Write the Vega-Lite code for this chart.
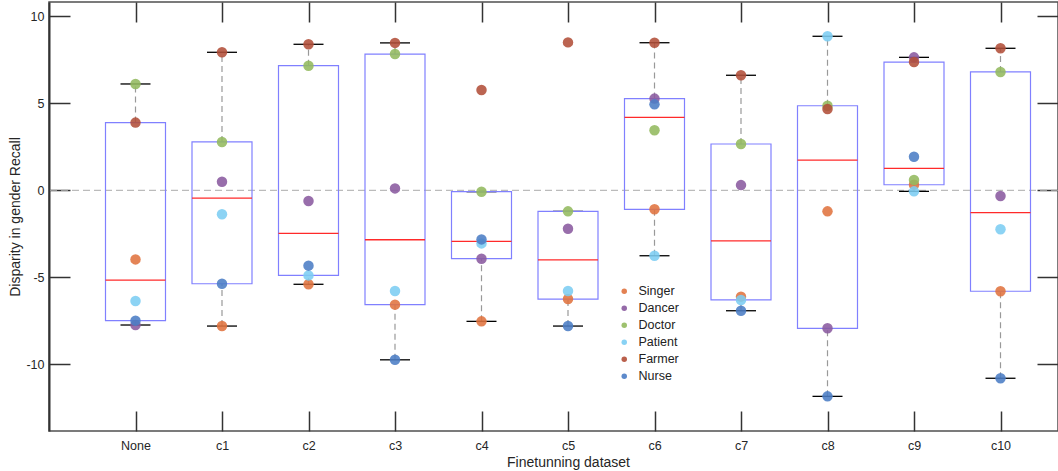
{
  "$schema": "https://vega.github.io/schema/vega-lite/v6.json",
  "width": 1009,
  "height": 429,
  "autosize": {"type": "none"},
  "padding": {"left": 49, "top": 2, "right": 0, "bottom": 40},
  "background": "white",
  "config": {
    "view": {"stroke": "#505050", "strokeWidth": 1.5},
    "font": "Liberation Sans",
    "axis": {
      "grid": false,
      "labelFont": "Liberation Sans",
      "labelFontSize": 12.5,
      "labelColor": "#262626",
      "titleFont": "Liberation Sans",
      "titleFontSize": 14,
      "titleFontWeight": "normal",
      "titleColor": "#262626",
      "domainColor": "#333333",
      "domainWidth": 2,
      "tickColor": "#333333",
      "tickWidth": 1.5
    }
  },
  "datasets": {
    "pts": [
      {"d": "None", "job": "Singer", "v": -3.97},
      {"d": "c1", "job": "Singer", "v": -7.80},
      {"d": "c2", "job": "Singer", "v": -5.40},
      {"d": "c3", "job": "Singer", "v": -6.57},
      {"d": "c4", "job": "Singer", "v": -7.53},
      {"d": "c5", "job": "Singer", "v": -6.25},
      {"d": "c6", "job": "Singer", "v": -1.09},
      {"d": "c7", "job": "Singer", "v": -6.11},
      {"d": "c8", "job": "Singer", "v": -1.21},
      {"d": "c9", "job": "Singer", "v": 0.32},
      {"d": "c10", "job": "Singer", "v": -5.80},
      {"d": "None", "job": "Dancer", "v": -7.74},
      {"d": "c1", "job": "Dancer", "v": 0.49},
      {"d": "c2", "job": "Dancer", "v": -0.61},
      {"d": "c3", "job": "Dancer", "v": 0.11},
      {"d": "c4", "job": "Dancer", "v": -3.93},
      {"d": "c5", "job": "Dancer", "v": -2.21},
      {"d": "c6", "job": "Dancer", "v": 5.27},
      {"d": "c7", "job": "Dancer", "v": 0.30},
      {"d": "c8", "job": "Dancer", "v": -7.93},
      {"d": "c9", "job": "Dancer", "v": 7.64},
      {"d": "c10", "job": "Dancer", "v": -0.33},
      {"d": "None", "job": "Doctor", "v": 6.11},
      {"d": "c1", "job": "Doctor", "v": 2.78},
      {"d": "c2", "job": "Doctor", "v": 7.16},
      {"d": "c3", "job": "Doctor", "v": 7.83},
      {"d": "c4", "job": "Doctor", "v": -0.08},
      {"d": "c5", "job": "Doctor", "v": -1.21},
      {"d": "c6", "job": "Doctor", "v": 3.45},
      {"d": "c7", "job": "Doctor", "v": 2.66},
      {"d": "c8", "job": "Doctor", "v": 4.86},
      {"d": "c9", "job": "Doctor", "v": 0.59},
      {"d": "c10", "job": "Doctor", "v": 6.80},
      {"d": "None", "job": "Patient", "v": -6.36},
      {"d": "c1", "job": "Patient", "v": -1.38},
      {"d": "c2", "job": "Patient", "v": -4.89},
      {"d": "c3", "job": "Patient", "v": -5.79},
      {"d": "c4", "job": "Patient", "v": -3.05},
      {"d": "c5", "job": "Patient", "v": -5.79},
      {"d": "c6", "job": "Patient", "v": -3.76},
      {"d": "c7", "job": "Patient", "v": -6.30},
      {"d": "c8", "job": "Patient", "v": 8.85},
      {"d": "c9", "job": "Patient", "v": -0.06},
      {"d": "c10", "job": "Patient", "v": -2.24},
      {"d": "None", "job": "Farmer", "v": 3.89},
      {"d": "c1", "job": "Farmer", "v": 7.93},
      {"d": "c2", "job": "Farmer", "v": 8.39},
      {"d": "c3", "job": "Farmer", "v": 8.47},
      {"d": "c4", "job": "Farmer", "v": 5.76},
      {"d": "c5", "job": "Farmer", "v": 8.50},
      {"d": "c6", "job": "Farmer", "v": 8.48},
      {"d": "c7", "job": "Farmer", "v": 6.61},
      {"d": "c8", "job": "Farmer", "v": 4.67},
      {"d": "c9", "job": "Farmer", "v": 7.37},
      {"d": "c10", "job": "Farmer", "v": 8.16},
      {"d": "None", "job": "Nurse", "v": -7.49},
      {"d": "c1", "job": "Nurse", "v": -5.37},
      {"d": "c2", "job": "Nurse", "v": -4.33},
      {"d": "c3", "job": "Nurse", "v": -9.74},
      {"d": "c4", "job": "Nurse", "v": -2.82},
      {"d": "c5", "job": "Nurse", "v": -7.80},
      {"d": "c6", "job": "Nurse", "v": 4.94},
      {"d": "c7", "job": "Nurse", "v": -6.92},
      {"d": "c8", "job": "Nurse", "v": -11.84},
      {"d": "c9", "job": "Nurse", "v": 1.93},
      {"d": "c10", "job": "Nurse", "v": -10.80}
    ],
    "box": [
      {"d": "None", "lo": -7.74, "q1": -7.49, "med": -5.165, "q3": 3.89, "hi": 6.11},
      {"d": "c1", "lo": -7.80, "q1": -5.37, "med": -0.445, "q3": 2.78, "hi": 7.93},
      {"d": "c2", "lo": -5.40, "q1": -4.89, "med": -2.47, "q3": 7.16, "hi": 8.39},
      {"d": "c3", "lo": -9.74, "q1": -6.57, "med": -2.84, "q3": 7.83, "hi": 8.47},
      {"d": "c4", "lo": -7.53, "q1": -3.93, "med": -2.935, "q3": -0.08, "hi": -0.08},
      {"d": "c5", "lo": -7.80, "q1": -6.25, "med": -4.0, "q3": -1.21, "hi": -1.21},
      {"d": "c6", "lo": -3.76, "q1": -1.09, "med": 4.195, "q3": 5.27, "hi": 8.48},
      {"d": "c7", "lo": -6.92, "q1": -6.30, "med": -2.905, "q3": 2.66, "hi": 6.61},
      {"d": "c8", "lo": -11.84, "q1": -7.93, "med": 1.73, "q3": 4.86, "hi": 8.85},
      {"d": "c9", "lo": -0.06, "q1": 0.32, "med": 1.26, "q3": 7.37, "hi": 7.64},
      {"d": "c10", "lo": -10.80, "q1": -5.80, "med": -1.285, "q3": 6.80, "hi": 8.16}
    ]
  },
  "resolve": {"axis": {"x": "independent", "y": "independent"}},
  "layer": [
    {
      "data": {"values": [{"z": 0}]},
      "mark": {"type": "rule", "color": "#aaaaaa", "strokeWidth": 1, "strokeDash": [7, 4]},
      "encoding": {
        "y": {
          "field": "z", "type": "quantitative",
          "scale": {"domain": [-13.83, 10.82], "nice": false, "zero": false},
          "axis": {"orient": "right", "values": [-10, -5, 0, 5, 10], "labels": false, "domain": false, "tickSize": -21, "title": null}
        }
      }
    },
    {
      "data": {"name": "box"},
      "mark": {"type": "rule", "color": "#999999", "strokeWidth": 1.2, "strokeDash": [6, 4]},
      "encoding": {
        "x": {"field": "d", "type": "nominal", "sort": null,
              "scale": {"type": "point", "domain": ["None","c1","c2","c3","c4","c5","c6","c7","c8","c9","c10"], "range": [86.5, 951.5], "padding": 0},
              "axis": null},
        "y": {"field": "lo", "type": "quantitative", "axis": null},
        "y2": {"field": "q1"}
      }
    },
    {
      "data": {"name": "box"},
      "mark": {"type": "rule", "color": "#999999", "strokeWidth": 1.2, "strokeDash": [6, 4]},
      "encoding": {
        "x": {"field": "d", "type": "nominal", "axis": null},
        "y": {"field": "q3", "type": "quantitative", "axis": null},
        "y2": {"field": "hi"}
      }
    },
    {
      "data": {"name": "box"},
      "mark": {"type": "tick", "color": "#000000", "size": 30, "thickness": 1.3, "opacity": 1},
      "encoding": {
        "x": {"field": "d", "type": "nominal", "axis": null},
        "y": {"field": "lo", "type": "quantitative", "axis": null}
      }
    },
    {
      "data": {"name": "box"},
      "mark": {"type": "tick", "color": "#000000", "size": 30, "thickness": 1.3, "opacity": 1},
      "encoding": {
        "x": {"field": "d", "type": "nominal", "axis": null},
        "y": {"field": "hi", "type": "quantitative", "axis": null}
      }
    },
    {
      "data": {"name": "box"},
      "mark": {"type": "bar", "width": 60, "fillOpacity": 0, "stroke": "#8080ff", "strokeWidth": 1.2},
      "encoding": {
        "x": {"field": "d", "type": "nominal",
              "axis": {"orient": "top", "labels": false, "domain": false, "tickSize": -20, "title": null}},
        "y": {"field": "q1", "type": "quantitative", "axis": null},
        "y2": {"field": "q3"}
      }
    },
    {
      "data": {"name": "box"},
      "mark": {"type": "tick", "color": "#ff2a2a", "size": 60, "thickness": 1.3, "opacity": 1},
      "encoding": {
        "x": {"field": "d", "type": "nominal", "axis": null},
        "y": {"field": "med", "type": "quantitative", "axis": null}
      }
    },
    {
      "data": {"name": "pts"},
      "mark": {"type": "circle", "size": 110, "opacity": 0.88},
      "encoding": {
        "x": {"field": "d", "type": "nominal",
              "axis": {"orient": "bottom", "title": "Finetunning dataset", "labelAngle": 0, "domain": false, "tickSize": -20, "labelPadding": 28, "titlePadding": 4}},
        "y": {"field": "v", "type": "quantitative",
              "axis": {"orient": "left", "values": [-10, -5, 0, 5, 10], "labelExpr": "'' + datum.value", "tickSize": -21, "labelPadding": 26, "title": "Disparity in gender Recall", "titlePadding": 3}},
        "color": {
          "field": "job", "type": "nominal",
          "scale": {"domain": ["Singer","Dancer","Doctor","Patient","Farmer","Nurse"],
                    "range": ["#e0733f","#8a5a9f","#93ba5e","#7ccdf3","#b24f39","#4b7dc5"]},
          "legend": {
            "title": null, "orient": "none", "legendX": 569, "legendY": 283,
            "symbolType": "circle", "symbolSize": 30, "symbolOpacity": 0.9, "symbolStrokeWidth": 0,
            "labelFont": "Liberation Sans", "labelFontSize": 12.5, "labelColor": "#222222",
            "labelOffset": 8, "rowPadding": 4, "padding": 0
          }
        }
      }
    }
  ]
}
